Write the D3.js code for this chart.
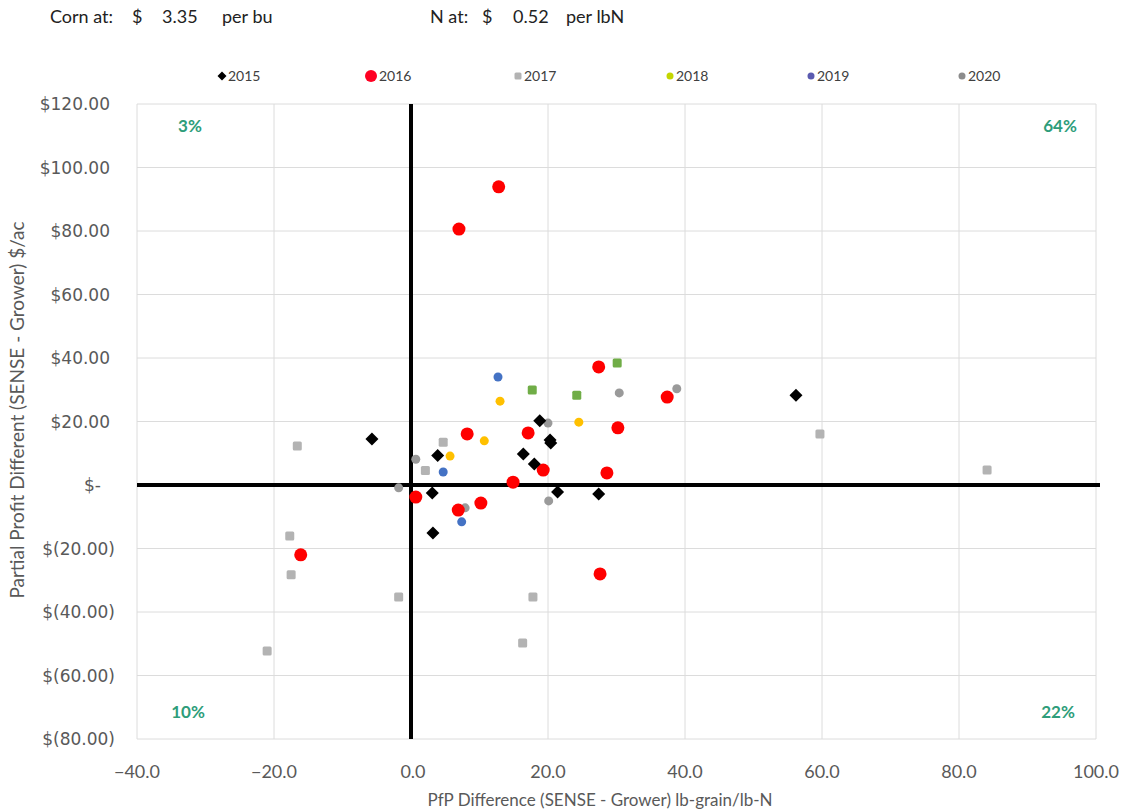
<!DOCTYPE html>
<html>
<head>
<meta charset="utf-8">
<script src="https://cdn.jsdelivr.net/npm/d3@7"></script>
<style>
  body { margin: 0; background: #fff; }
  svg { display: block; font-family: Lato, "Noto Sans", sans-serif; }
</style>
</head>
<body>
<div id="chart"></div>
<script>
// x = PfP difference (lb-grain/lb-N), y = partial profit difference ($/ac)
const pts2015 = [[-5.7, 14.5], [3.9, 9.3], [18.8, 20.2], [20.4, 13.2], [20.3, 14.2], [16.4, 9.8], [18.0, 6.6],
  [3.1, -2.5], [21.4, -2.2], [27.4, -2.8], [3.2, -15.1], [56.2, 28.3]];
const pts2016 = [[12.8, 93.9], [7.0, 80.6], [27.4, 37.2], [37.4, 27.7], [30.2, 18.0], [8.2, 16.1], [17.1, 16.4],
  [19.3, 4.7], [28.6, 3.8], [14.9, 0.9], [0.7, -3.8], [10.2, -5.7], [6.9, -7.9], [27.6, -28.0], [-16.1, -22.0]];
const pts2017 = [[-16.6, 12.3], [-17.7, -16.1], [-17.5, -28.3], [-21.0, -52.3], [-1.8, -35.3], [17.8, -35.3],
  [16.3, -49.8], [59.7, 16.1], [84.1, 4.7], [2.1, 4.6], [4.7, 13.5]];
const pts2018 = [[13.0, 26.4], [10.7, 13.9], [5.7, 9.1], [24.5, 19.8]];
const ptsGreen = [[17.7, 29.9], [24.2, 28.3], [30.1, 38.4]];
const pts2019 = [[12.7, 34.0], [4.7, 4.1], [7.4, -11.6]];
const pts2020 = [[0.7, 8.1], [-1.8, -0.9], [20.1, -5.0], [7.9, -7.2], [20.0, 19.5], [30.4, 29.0], [38.8, 30.3]];

const seriesNames = ['2015', '2016', '2017', '2018', '2019', '2020'];
const xTicks = [-40, -20, 0, 20, 40, 60, 80, 100];
const yTicks = [120, 100, 80, 60, 40, 20, 0, -20, -40, -60, -80];
const quadrantLabels = ['3%', '64%', '10%', '22%'];
const cornPrice = 3.35, nPrice = 0.52;

const series = [
  { name: '2020', pts: pts2020, shape: 'circle', color: '#9a9a9a', size: 4.5, legend: '#8c8c8c' },
  { name: '2017', pts: pts2017, shape: 'square', color: '#b3b3b3', size: 4.5, legend: '#b3b3b3' },
  { name: 'green', pts: ptsGreen, shape: 'square', color: '#70ad47', size: 4.5 },
  { name: '2018', pts: pts2018, shape: 'circle', color: '#ffc000', size: 4.5, legend: '#c4d600' },
  { name: '2019', pts: pts2019, shape: 'circle', color: '#4472c4', size: 4.5, legend: '#5b5bb0' },
  { name: '2016', pts: pts2016, shape: 'circle', color: '#ff0000', size: 6.5, legend: '#ff0022' },
  { name: '2015', pts: pts2015, shape: 'diamond', color: '#000000', size: 6.5, legend: '#000000' }
];

const width = 1131, height = 812;
const margin = { top: 104, right: 35, bottom: 73, left: 137 };

const svg = d3.select('#chart').append('svg')
  .attr('width', width)
  .attr('height', height);

const x = d3.scaleLinear().domain([-40, 100]).range([margin.left, width - margin.right]);
const y = d3.scaleLinear().domain([-80, 120]).range([height - margin.bottom, margin.top]);

// header (price inputs)
const header = [
  { x: 50, t: 'Corn at:' }, { x: 132, t: '$' }, { x: 162, t: cornPrice.toFixed(2) }, { x: 222, t: 'per bu' },
  { x: 430, t: 'N at:' }, { x: 482, t: '$' }, { x: 513, t: nPrice.toFixed(2) }, { x: 566, t: 'per lbN' }
];
svg.append('g').selectAll('text').data(header).join('text')
  .attr('x', d => d.x).attr('y', 23)
  .attr('font-size', 18).attr('fill', '#222')
  .text(d => d.t);

// gridlines
svg.append('g').selectAll('line').data(yTicks).join('line')
  .attr('x1', x(-40)).attr('x2', x(100))
  .attr('y1', d => y(d)).attr('y2', d => y(d))
  .attr('stroke', '#dcdcdc').attr('stroke-width', 1);
svg.append('g').selectAll('line').data(xTicks).join('line')
  .attr('x1', d => x(d)).attr('x2', d => x(d))
  .attr('y1', y(120)).attr('y2', y(-80))
  .attr('stroke', '#dcdcdc').attr('stroke-width', 1);

// thick zero axes
svg.append('line').attr('x1', x(-40)).attr('x2', x(100) + 4).attr('y1', y(0)).attr('y2', y(0))
  .attr('stroke', '#000').attr('stroke-width', 4);
svg.append('line').attr('x1', x(0)).attr('x2', x(0)).attr('y1', y(120)).attr('y2', y(-80))
  .attr('stroke', '#000').attr('stroke-width', 4);

// y tick labels (accounting format)
const fmt = d => {
  if (d === 0) return '$-';
  const s = d3.format(',.2f')(Math.abs(d));
  return d < 0 ? `$(${s})` : `$${s}`;
};
svg.append('g').selectAll('text').data(yTicks).join('text')
  .attr('x', d => d === 0 ? 101 : (d < 0 ? 115 : 110))
  .attr('y', d => y(d) + 6)
  .attr('text-anchor', 'end')
  .attr('font-family', '"DejaVu Sans", Verdana, sans-serif')
  .attr('font-size', 17)
  .attr('fill', '#595959')
  .text(fmt);

// x tick labels
svg.append('g').selectAll('text').data(xTicks).join('text')
  .attr('x', d => d === 0 ? x(d) + 2 : x(d))
  .attr('y', 778)
  .attr('text-anchor', 'middle')
  .attr('font-size', 18)
  .attr('fill', '#595959')
  .text(d => d3.format('.1f')(d));

// axis titles
svg.append('text').attr('x', 600).attr('y', 806).attr('text-anchor', 'middle')
  .attr('font-size', 17).attr('fill', '#595959')
  .text('PfP Difference (SENSE - Grower) lb-grain/lb-N');
svg.append('text').attr('transform', 'translate(24,410) rotate(-90)').attr('text-anchor', 'middle')
  .attr('font-size', 19).attr('fill', '#595959')
  .text('Partial Profit Different (SENSE - Grower) $/ac');

// quadrant labels
const quadPos = [[190, 132], [1060, 132], [188, 718], [1058, 718]];
svg.append('g').selectAll('text').data(quadrantLabels).join('text')
  .attr('x', (d, i) => quadPos[i][0])
  .attr('y', (d, i) => quadPos[i][1])
  .attr('text-anchor', 'middle')
  .attr('font-size', 17).attr('font-weight', 'bold')
  .attr('fill', '#2e9d7a')
  .text(d => d);

// marker drawing
function drawMarker(sel, shape, size, color) {
  if (shape === 'circle') {
    sel.append('circle').attr('r', size).attr('fill', color);
  } else if (shape === 'square') {
    sel.append('rect').attr('x', -size).attr('y', -size).attr('width', size * 2).attr('height', size * 2)
      .attr('rx', 1.5).attr('fill', color);
  } else {
    sel.append('path').attr('d', `M0,${-size}L${size},0L0,${size}L${-size},0Z`).attr('fill', color);
  }
}

series.forEach(s => {
  const g = svg.append('g');
  s.pts.forEach(p => {
    const m = g.append('g').attr('transform', `translate(${x(p[0])},${y(p[1])})`);
    drawMarker(m, s.shape, s.size, s.color);
  });
});

// legend
const legendX = [222, 371, 518, 670, 811, 962];
seriesNames.forEach((name, i) => {
  const s = series.find(d => d.name === name);
  const g = svg.append('g').attr('transform', `translate(${legendX[i]},76)`);
  const sz = name === '2016' ? 6 : (name === '2015' ? 4.5 : 3.5);
  drawMarker(g, s.shape, sz, s.legend);
  g.append('text').attr('x', name === '2016' ? 8 : 6).attr('y', 5)
    .attr('font-size', 14).attr('fill', '#404040').text(name);
});
</script>
</body>
</html>
